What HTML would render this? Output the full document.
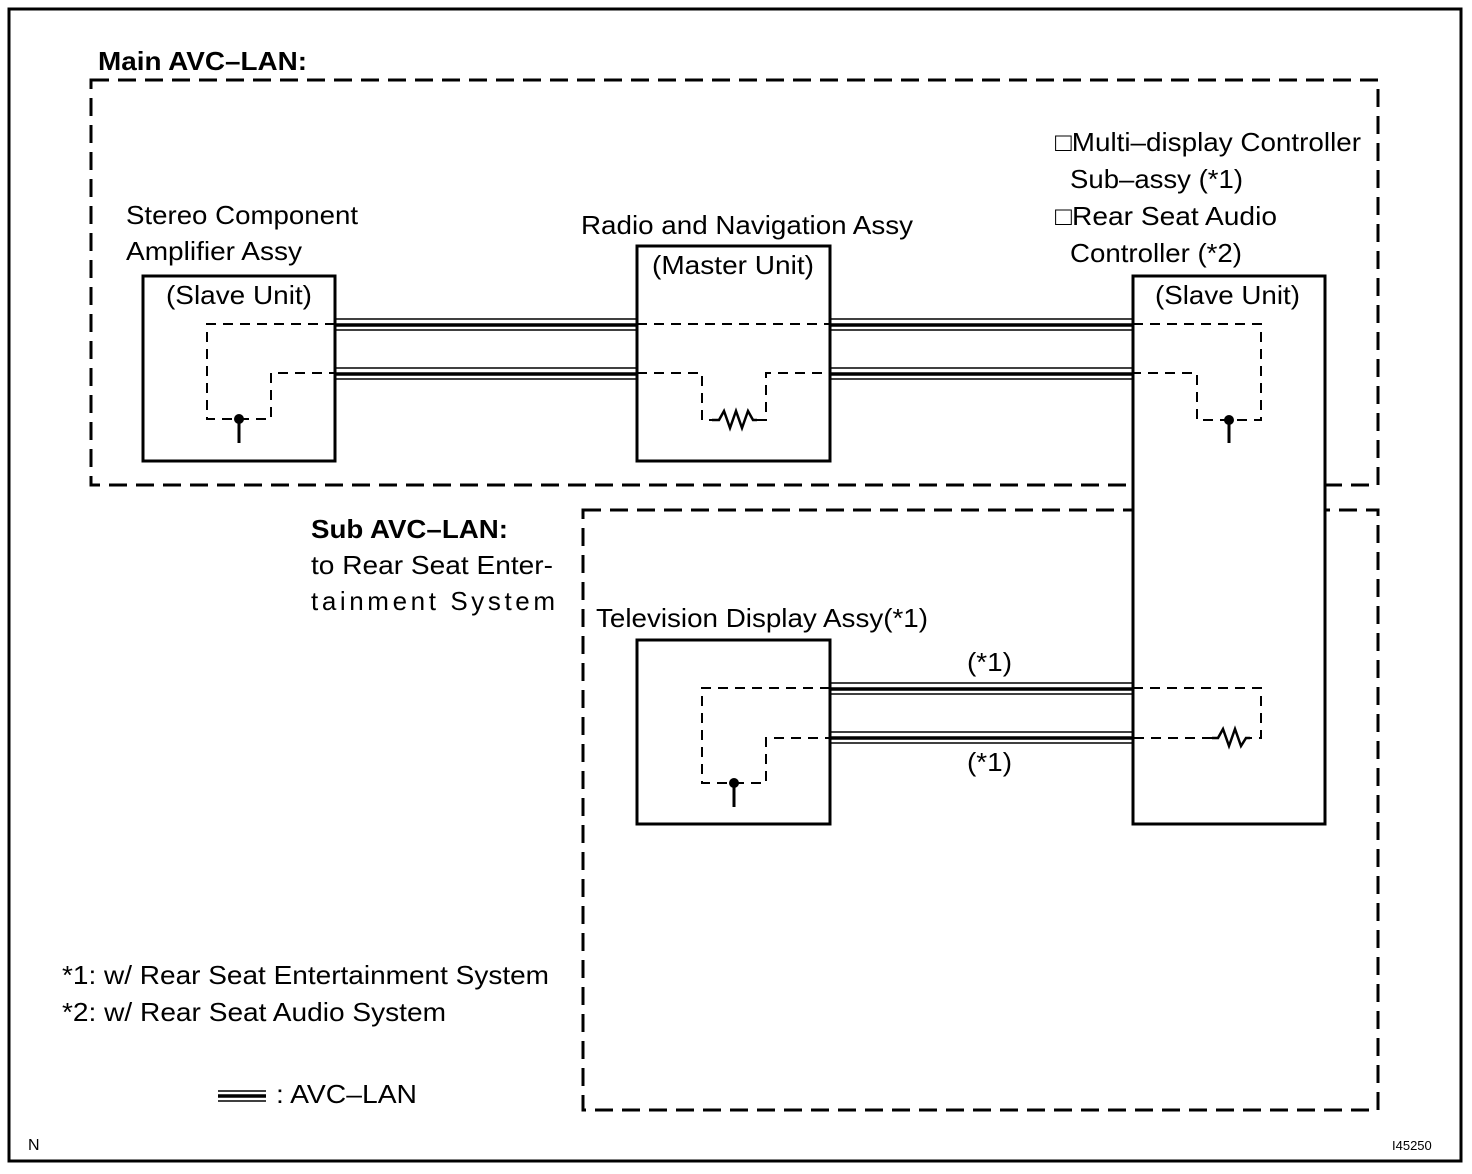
<!DOCTYPE html>
<html><head><style>
html,body{margin:0;padding:0;background:#fff;}
svg{display:block;}
text{font-family:"Liberation Sans",sans-serif;font-size:26px;fill:#000;}
.b{font-weight:bold;}
</style></head><body>
<svg width="1472" height="1174" viewBox="0 0 1472 1174">
<rect x="9" y="9" width="1452" height="1152" fill="none" stroke="#000" stroke-width="3"/>
<g fill="none" stroke="#000" stroke-width="3" stroke-dasharray="18,9">
<rect x="91" y="80" width="1287" height="405"/>
<rect x="583" y="510" width="795" height="600"/>
</g>
<g fill="#fff" stroke="#000" stroke-width="3">
<rect x="143" y="276" width="192" height="185"/>
<rect x="637" y="246" width="193" height="215"/>
<rect x="1133" y="276" width="192" height="548"/>
<rect x="637" y="640" width="193" height="184"/>
</g>
<g stroke="#000" fill="none">
<g id="bus">
<line x1="335" y1="319" x2="637" y2="319" stroke-width="1.5"/>
<line x1="335" y1="325" x2="637" y2="325" stroke-width="3.5"/>
<line x1="335" y1="330" x2="637" y2="330" stroke-width="1.5"/>
<line x1="335" y1="368" x2="637" y2="368" stroke-width="1.5"/>
<line x1="335" y1="374" x2="637" y2="374" stroke-width="3.5"/>
<line x1="335" y1="379" x2="637" y2="379" stroke-width="1.5"/>
</g>
<use href="#bus" transform="translate(495,0)"/>
<use href="#bus" transform="translate(495,364)"/>
<line x1="218" y1="1091" x2="266" y2="1091" stroke-width="1.5"/>
<line x1="218" y1="1096" x2="266" y2="1096" stroke-width="3.5"/>
<line x1="218" y1="1101" x2="266" y2="1101" stroke-width="1.5"/>
</g>
<g fill="none" stroke="#000" stroke-width="2" stroke-dasharray="10,7">
<polyline points="335,324 207,324 207,419 271,419 271,373 335,373"/>
<line x1="637" y1="324" x2="830" y2="324"/>
<polyline points="637,373 702,373 702,420 712,420"/>
<polyline points="757,420 766,420 766,373 830,373"/>
<polyline points="1133,324 1261,324 1261,420 1197,420 1197,373 1133,373"/>
<polyline points="830,688 702,688 702,783 766,783 766,738 830,738"/>
<polyline points="1133,688 1261,688 1261,738 1250,738"/>
<line x1="1212" y1="738" x2="1133" y2="738"/>
</g>
<g fill="none" stroke="#000" stroke-width="2.5">
<polyline points="712,420 719,420 724,411 730,428 736,411 742,428 748,411 753,420 757,420"/>
<polyline points="1212,738 1218,738 1223,729 1229,746 1235,729 1241,746 1246,738 1250,738"/>
<line x1="239" y1="419" x2="239" y2="443" stroke-width="3"/>
<line x1="1229" y1="420" x2="1229" y2="443" stroke-width="3"/>
<line x1="734" y1="783" x2="734" y2="807" stroke-width="3"/>
</g>
<g fill="#000">
<circle cx="239" cy="419" r="5"/>
<circle cx="1229" cy="420" r="5"/>
<circle cx="734" cy="783" r="5"/>
</g>
<g lengthAdjust="spacingAndGlyphs">
<text x="98" y="70" class="b" textLength="209" lengthAdjust="spacingAndGlyphs">Main AVC–LAN:</text>
<text x="126" y="224" textLength="232" lengthAdjust="spacingAndGlyphs">Stereo Component</text>
<text x="126" y="260" textLength="176" lengthAdjust="spacingAndGlyphs">Amplifier Assy</text>
<text x="166" y="304" textLength="146" lengthAdjust="spacingAndGlyphs">(Slave Unit)</text>
<text x="581" y="234" textLength="332" lengthAdjust="spacingAndGlyphs">Radio and Navigation Assy</text>
<text x="652" y="274" textLength="162" lengthAdjust="spacingAndGlyphs">(Master Unit)</text>
<text x="1055" y="151" textLength="306" lengthAdjust="spacingAndGlyphs">□Multi–display Controller</text>
<text x="1070" y="188" textLength="173" lengthAdjust="spacingAndGlyphs">Sub–assy (*1)</text>
<text x="1055" y="225" textLength="222" lengthAdjust="spacingAndGlyphs">□Rear Seat Audio</text>
<text x="1070" y="262" textLength="172" lengthAdjust="spacingAndGlyphs">Controller (*2)</text>
<text x="1155" y="304" textLength="145" lengthAdjust="spacingAndGlyphs">(Slave Unit)</text>
<text x="311" y="538" class="b" textLength="197" lengthAdjust="spacingAndGlyphs">Sub AVC–LAN:</text>
<text x="311" y="574" textLength="242" lengthAdjust="spacingAndGlyphs">to Rear Seat Enter-</text>
<text x="311" y="610" textLength="244">tainment  System</text>
<text x="596" y="627" textLength="332" lengthAdjust="spacingAndGlyphs">Television Display Assy(*1)</text>
<text x="967" y="671" textLength="45" lengthAdjust="spacingAndGlyphs">(*1)</text>
<text x="967" y="771" textLength="45" lengthAdjust="spacingAndGlyphs">(*1)</text>
<text x="62" y="984" textLength="487" lengthAdjust="spacingAndGlyphs">*1: w/ Rear Seat Entertainment System</text>
<text x="62" y="1021" textLength="384" lengthAdjust="spacingAndGlyphs">*2: w/ Rear Seat Audio System</text>
<text x="276" y="1103" textLength="141" lengthAdjust="spacingAndGlyphs">: AVC–LAN</text>
</g>
<text x="28" y="1150" style="font-size:16px">N</text>
<text x="1392" y="1150" style="font-size:13px">I45250</text>
</svg>
</body></html>
